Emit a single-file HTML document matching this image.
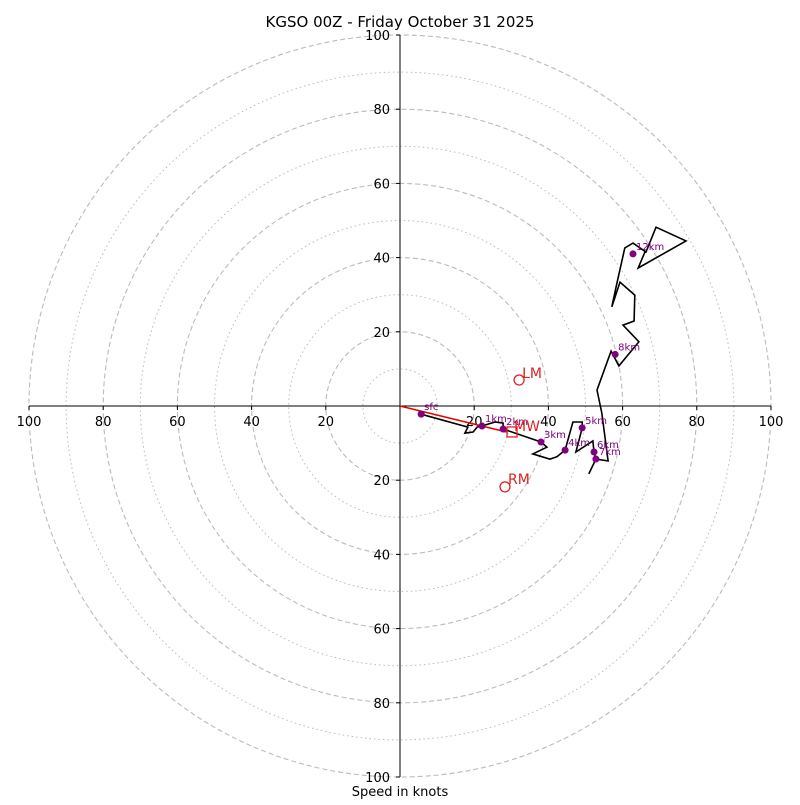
<!DOCTYPE html>
<html><head><meta charset="utf-8"><style>
body{margin:0;background:#fff;font-family:"Liberation Sans","DejaVu Sans",sans-serif}
svg text{font-family:"DejaVu Sans","Liberation Sans",sans-serif}
</style></head><body>
<svg id="chart" width="800" height="800" xmlns="http://www.w3.org/2000/svg">
<text x="400" y="27" text-anchor="middle" font-size="15">KGSO 00Z - Friday October 31 2025</text>
<text x="400" y="796" text-anchor="middle" font-size="13">Speed in knots</text>
<g id="rings"></g><g id="axes"></g><g id="trace"></g><g id="marks"></g>
</svg>
<script>
const ringValues=[10,20,30,40,50,60,70,80,90,100];
const tickValues=[20,40,60,80,100];
const traceU=[5.7,18.3,17.5,19.7,20.8,22.1,25.6,27.8,27.8,38.0,39.6,35.8,40.4,42.3,44.5,46.6,49.1,49.1,47.4,52.0,52.3,52.8,50.9,52.8,56.1,54.4,53.1,56.9,59.0,64.4,60.1,63.1,63.3,59.3,57.1,58.5,60.6,62.8,66.3,69.0,77.1,64.2,66.0];
const traceV=[-2.2,-5.7,-7.3,-7.0,-5.7,-5.4,-4.3,-4.6,-6.2,-9.7,-11.1,-12.9,-14.3,-13.7,-11.9,-4.3,-4.3,-5.9,-12.4,-9.4,-12.4,-14.3,-18.3,-14.3,-14.8,-1.9,4.3,14.8,10.8,17.3,21.8,22.9,29.9,33.4,26.7,33.2,42.6,43.9,41.5,48.2,44.5,37.2,41.5];
const markerLabels=["sfc","1km","2km","3km","4km","5km","6km","7km","8km","12km"];
const markerU=[5.7,22.1,27.8,38.0,44.5,49.1,52.3,52.8,58.0,62.8];
const markerV=[-2.2,-5.4,-6.2,-9.7,-11.9,-5.9,-12.4,-14.3,13.9,41.0];
const meanWind=[30.2,-7.0];
const leftMover=[32.1,7.0];
const rightMover=[28.3,-21.8];
const CX=400,CY=406,S=3.71;
const X=u=>CX+u*S, Y=v=>CY-v*S;
const NS="http://www.w3.org/2000/svg";
function mk(tag,attrs,parent){const e=document.createElementNS(NS,tag);for(const k in attrs)e.setAttribute(k,attrs[k]);document.getElementById(parent).appendChild(e);return e;}
ringValues.forEach(r=>{
 const c=mk('circle',{cx:CX,cy:CY,r:r*S,fill:'none',stroke:'#bbb','stroke-width':r%20===0?1.1:1,'stroke-dasharray':r%20===0?'5,3':'1.5,3'},'rings');
 
 
});
let a=mk('line',{x1:X(-100),y1:CY,x2:X(100),y2:CY,stroke:'#000','stroke-width':1},'axes');


a=mk('line',{x1:CX,y1:Y(100),x2:CX,y2:Y(-100),stroke:'#000','stroke-width':1},'axes');


tickValues.forEach(t=>{
 [-1,1].forEach(sg=>{
  let tk=mk('line',{x1:X(sg*t),y1:CY,x2:X(sg*t),y2:CY+4,stroke:'#000'},'axes');
  
  
  let tx=mk('text',{x:X(sg*t),y:CY+20,'text-anchor':'middle','font-size':13},'axes');tx.textContent=t;
  
  
  tk=mk('line',{x1:CX-4,y1:Y(sg*t),x2:CX,y2:Y(sg*t),stroke:'#000'},'axes');
  
  
  tx=mk('text',{x:CX-10,y:Y(sg*t)+5,'text-anchor':'end','font-size':13},'axes');tx.textContent=t;
  
  
 });
});
let pts=traceU.map((u,i)=>X(u).toFixed(1)+','+Y(traceV[i]).toFixed(1)).join(' ');
let pl=mk('polyline',{points:pts,fill:'none',stroke:'#000','stroke-width':1.6,'stroke-linejoin':'miter'},'trace');


let rl=mk('line',{x1:X(0),y1:Y(0),x2:X(meanWind[0]-1.5),y2:Y(meanWind[1]),stroke:'#e00','stroke-width':1.6},'trace');


markerU.forEach((u,i)=>{
 const d=mk('circle',{cx:X(u),cy:Y(markerV[i]),r:3.5,fill:'purple'},'marks');
 
 
 const t=mk('text',{x:X(u)+3,y:Y(markerV[i])-4,'font-size':10,fill:'purple'},'marks');t.textContent=markerLabels[i];
 
 
});
let sq=mk('rect',{x:X(meanWind[0])-5,y:Y(meanWind[1])-5,width:10,height:10,fill:'none',stroke:'#d22','stroke-width':1.3},'marks');


let t=mk('text',{x:X(meanWind[0])+2,y:Y(meanWind[1])-1,'font-size':14,fill:'#d22'},'marks');t.textContent='MW';


let c=mk('circle',{cx:X(leftMover[0]),cy:Y(leftMover[1]),r:5,fill:'none',stroke:'#d22','stroke-width':1.3},'marks');


t=mk('text',{x:X(leftMover[0])+3,y:Y(leftMover[1])-2,'font-size':14,fill:'#d22'},'marks');t.textContent='LM';


c=mk('circle',{cx:X(rightMover[0]),cy:Y(rightMover[1]),r:5,fill:'none',stroke:'#d22','stroke-width':1.3},'marks');


t=mk('text',{x:X(rightMover[0])+3,y:Y(rightMover[1])-3,'font-size':14,fill:'#d22'},'marks');t.textContent='RM';


</script>
</body></html>
